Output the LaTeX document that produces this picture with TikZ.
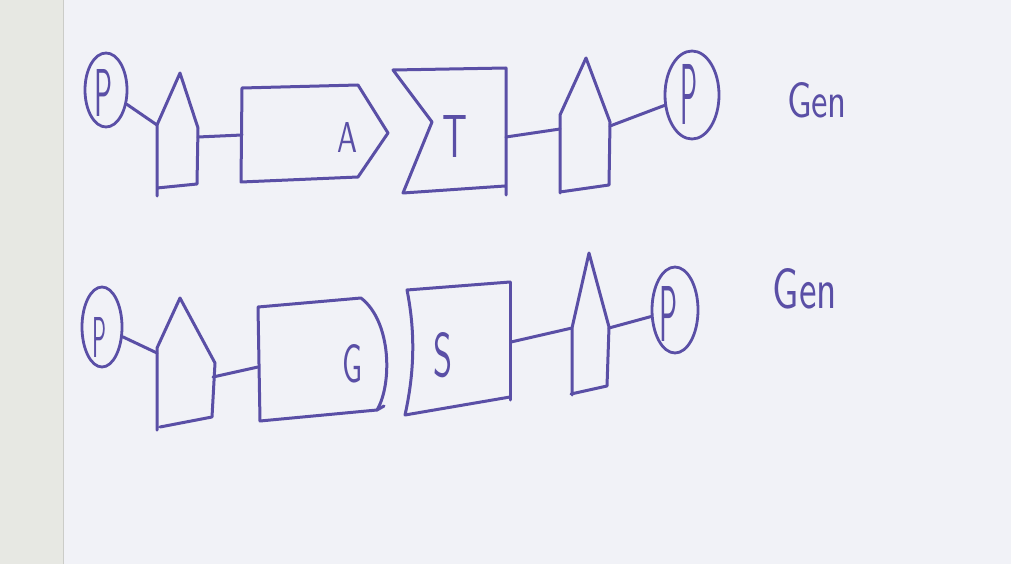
\documentclass[tikz,border=0pt]{standalone}
\usepackage{graphicx}
\usetikzlibrary{shapes.geometric}
\definecolor{ink}{HTML}{5A4FA6}
\definecolor{paper}{HTML}{F1F2F7}
\definecolor{strip}{HTML}{E7E8E3}
\newcommand\handtext[3]{\resizebox{#1pt}{#2pt}{\sffamily #3}}
\begin{document}
\begin{tikzpicture}[x=1pt,y=-1pt,
  pen/.style={draw=ink,line width=3pt,line join=round,line cap=round},
  pcircle/.style={ellipse,draw=ink,line width=2.8pt,inner sep=0pt},
  lbl/.style={text=ink,inner sep=0pt,anchor=center}]
\useasboundingbox (0,0) rectangle (1011,564);
\fill[paper] (0,0) rectangle (1011,564);
\fill[strip] (0,0) rectangle (63,564);
\draw[strip!88!black,line width=0.6pt] (63,0) -- (63,564);

% ---------- row 1 ----------
\node[pcircle,minimum width=42pt,minimum height=74pt] (P1) at (106,90) {};
\node[lbl] (P1l) at (104,93) {\handtext{18}{47}{P}};

\coordinate (h1w) at (157,125);
\coordinate (h1e) at (198,137);
\draw[pen] (157,196) -- (h1w) -- (180,73) -- (198,128) -- (197,184) -- (157,188);

\coordinate (Aw) at (242,135);
\draw[pen] (242,88) -- (358,85) -- (388,133) -- (358,177) -- (241,182) -- cycle;
\node[lbl] (Al) at (347,137) {\handtext{20}{30}{A}};

\coordinate (Te) at (506,137);
\draw[pen] (506,195) -- (506,68) -- (393,70) -- (432,122) -- (403,193) -- (505,186);
\node[lbl] (Tl) at (455,136) {\handtext{25}{42}{T}};

\coordinate (h2w) at (560,129);
\coordinate (h2e) at (610,126);
\draw[pen] (560,193) -- (560,115) -- (586,58) -- (610,122) -- (609,185) -- (560,192);

\node[pcircle,minimum width=54pt,minimum height=88pt] (P2) at (692,95) {};
\node[lbl] (P2l) at (689,94) {\handtext{17}{60}{P}};

\node[lbl] (Gen1) at (817,100) {\handtext{60}{35}{Gen}};

\draw[pen] (P1) -- (h1w);
\draw[pen] (h1e) -- (Aw);
\draw[pen] (Te) -- (h2w);
\draw[pen] (h2e) -- (P2);

% ---------- row 2 ----------
\node[pcircle,minimum width=40pt,minimum height=80pt] (P3) at (102,327) {};
\node[lbl] (P3l) at (99,337) {\handtext{14}{40}{P}};

\coordinate (h3w) at (157,353);
\coordinate (h3e) at (213,377);
\draw[pen] (157,430) -- (157,348) -- (180,298) -- (215,363) -- (212,417) -- (160,427);

\coordinate (Gw) at (258,367);
\draw[pen] (258,307) -- (361,298) .. controls (392,322) and (392,385) .. (377,410) -- (260,421) -- cycle;
\draw[pen] (377,410) -- (384,406);
\node[lbl] (Gl) at (352,364) {\handtext{20}{38}{G}};

\coordinate (Se) at (511,342);
\draw[pen] (510,282) -- (407,290) .. controls (415,330) and (415,370) .. (405,415) -- (510,397);
\draw[pen] (510,282) -- (510,400);
\node[lbl] (Sl) at (443,355) {\handtext{19}{44}{S}};

\coordinate (h4w) at (572,328);
\coordinate (h4e) at (609,328);
\draw[pen] (572,395) -- (h4w) -- (589,253) -- (609,327) -- (607,386) -- (571,394);

\node[pcircle,minimum width=46pt,minimum height=86pt] (P4) at (675,310) {};
\node[lbl] (P4l) at (668,314) {\handtext{18}{55}{P}};

\node[lbl] (Gen2) at (805,289) {\handtext{64}{40}{Gen}};

\draw[pen] (P3) -- (h3w);
\draw[pen] (h3e) -- (Gw);
\draw[pen] (Se) -- (h4w);
\draw[pen] (h4e) -- (P4);
\end{tikzpicture}
\end{document}
